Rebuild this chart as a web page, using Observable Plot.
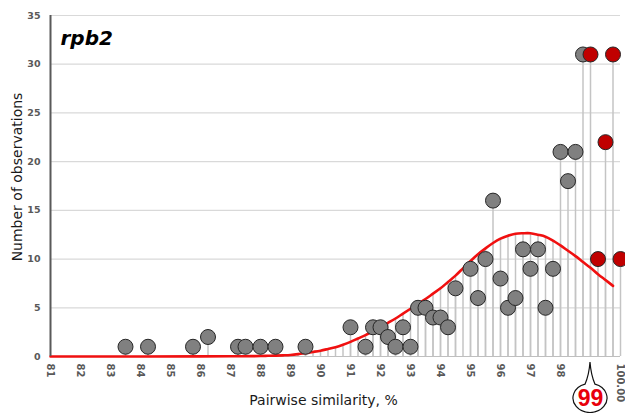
<!DOCTYPE html>
<html>
<head>
<meta charset="utf-8">
<script src="https://cdn.jsdelivr.net/npm/d3@7"></script>
<script src="https://cdn.jsdelivr.net/npm/@observablehq/plot@0.6"></script>
<style>
  html, body { margin: 0; padding: 0; background: white; }
  #chart { width: 625px; height: 413px; }
</style>
</head>
<body>
<div id="chart"></div>
<script>
// ---- data ----
const title = "rpb2";
const xLabel = "Pairwise similarity, %";
const yLabel = "Number of observations";

const xTicks = [81, 82, 83, 84, 85, 86, 87, 88, 89, 90, 91, 92, 93, 94, 95, 96, 97, 98, 100];
const xTickLabels = ["81", "82", "83", "84", "85", "86", "87", "88", "89", "90", "91", "92", "93", "94", "95", "96", "97", "98", "100.00"];
const yTicks = [0, 5, 10, 15, 20, 25, 30, 35];
const calloutValue = 99;
const calloutLabel = "99";

// grey points (similarity < 99 %)
const grayX = [83.5, 84.25, 85.75, 86.25, 87.25, 87.5, 88.0, 88.5, 89.5, 91.0, 91.5, 91.75, 92.0, 92.25, 92.5, 92.75, 93.0, 93.25, 93.5, 93.75, 94.0, 94.25, 94.5, 95.0, 95.25, 95.5, 95.75, 96.0, 96.25, 96.5, 96.75, 97.0, 97.25, 97.5, 97.75, 98.0, 98.25, 98.5, 98.75];
const grayN = [1, 1, 1, 2, 1, 1, 1, 1, 1, 3, 1, 3, 3, 2, 1, 3, 1, 5, 5, 4, 4, 3, 7, 9, 6, 10, 16, 8, 5, 6, 11, 9, 11, 5, 9, 21, 18, 21, 31];

// red points (similarity >= 99 %)
const redX = [99.0, 99.25, 99.5, 99.75, 100.0];
const redN = [31, 10, 22, 31, 10];

// fitted curve
const curveX = [81, 84, 86, 87, 87.5, 88, 88.25, 88.5, 88.75, 89, 89.25, 89.5, 89.75, 90, 90.25, 90.5, 90.75, 91, 91.25, 91.5, 91.75, 92, 92.25, 92.5, 92.75, 93, 93.25, 93.5, 93.75, 94, 94.25, 94.5, 94.75, 95, 95.25, 95.5, 95.75, 96, 96.25, 96.5, 96.75, 97, 97.25, 97.5, 97.75, 98, 98.25, 98.5, 98.75, 99, 99.25, 99.5, 99.75];
const curveY = [0, 0, 0.01, 0.02, 0.03, 0.05, 0.07, 0.09, 0.12, 0.16, 0.24, 0.35, 0.47, 0.6, 0.77, 0.95, 1.2, 1.5, 1.85, 2.2, 2.6, 3.0, 3.45, 3.9, 4.4, 4.9, 5.4, 5.9, 6.45, 7.0, 7.65, 8.3, 9.05, 9.8, 10.5, 11.1, 11.65, 12.1, 12.4, 12.6, 12.65, 12.65, 12.5, 12.3, 11.9, 11.4, 10.85, 10.3, 9.7, 9.1, 8.45, 7.85, 7.25];

// ---- tables ----
const gray = grayX.map((x, i) => ({x, n: grayN[i]}));
const red = redX.map((x, i) => ({x, n: redN[i]}));
const curve = curveX.map((x, i) => ({x, y: curveY[i]}));
const ticksX = xTicks.map((x, i) => ({x, label: xTickLabels[i]}));

const tickColor = "#595959";

const plot = Plot.plot({
  width: 625,
  height: 413,
  marginLeft: 50,
  marginRight: 5,
  marginTop: 15,
  marginBottom: 57,
  x: {domain: [81, 100], axis: null},
  y: {domain: [0, 35], axis: null},
  style: {fontFamily: "DejaVu Sans", background: "white", overflow: "visible"},
  marks: [
    Plot.ruleY(yTicks.filter(d => d > 0), {y: d => d, stroke: "#d9d9d9", strokeWidth: 1.2}),
    Plot.ruleY([0], {stroke: "#bfbfbf", strokeWidth: 1}),
    // drop lines of the curve and of the points
    Plot.ruleX(curve, {x: "x", y1: 0, y2: "y", stroke: "#c4c4c4", strokeWidth: 1.5}),
    Plot.ruleX(gray, {x: "x", y1: 0, y2: "n", stroke: "#c4c4c4", strokeWidth: 1.5}),
    Plot.ruleX(red, {x: "x", y1: 0, y2: "n", stroke: "#c4c4c4", strokeWidth: 1.5}),
    // fitted curve
    Plot.line(curve, {x: "x", y: "y", stroke: "#f01010", strokeWidth: 2.6, curve: "catmull-rom"}),
    // y axis line
    Plot.ruleX([81], {stroke: "#595959", strokeWidth: 2}),
    // points
    Plot.dot(gray, {x: "x", y: "n", r: 7.5, fill: "#808080", stroke: "#262626", strokeWidth: 1}),
    Plot.dot(red, {x: "x", y: "n", r: 7.5, fill: "#c00000", stroke: "#262626", strokeWidth: 1}),
    // y tick labels
    Plot.text(yTicks, {y: d => d, text: d => String(d), frameAnchor: "left", textAnchor: "end", dx: -10,
      fontSize: 9.5, fontWeight: "bold", fill: tickColor}),
    // x tick labels (rotated)
    Plot.text(ticksX, {x: "x", text: "label", frameAnchor: "bottom", rotate: 90, textAnchor: "start",
      lineAnchor: "middle", dy: 7, fontSize: 10, fontWeight: "bold", fill: tickColor}),
    // callout number
    Plot.text([calloutValue], {x: d => d, text: [calloutLabel], frameAnchor: "bottom", dy: 42,
      lineAnchor: "middle", fontSize: 23, fontWeight: "bold", fill: "#e8000b",
      fontFamily: "Liberation Sans"}),
    // title
    Plot.text([title], {frameAnchor: "top-left", dx: 10, dy: 23, lineAnchor: "middle", textAnchor: "start",
      fontSize: 20, fontWeight: "bold", fontStyle: "italic", fill: "black"}),
    // axis labels
    Plot.text([yLabel], {frameAnchor: "left", rotate: -90, textAnchor: "middle", dx: -33, dy: -9,
      lineAnchor: "middle", fontSize: 14, fill: "#1a1a1a"}),
    Plot.text([xLabel], {frameAnchor: "bottom", textAnchor: "middle", dx: -12, dy: 44, lineAnchor: "middle",
      fontSize: 14, fill: "#1a1a1a"})
  ]
});

// speech-bubble outline around the callout, positioned with the x scale
const sx = plot.scale("x");
const cx = sx.apply(calloutValue);
const cy = 398, rx = 17, ry = 14.5, half = 5;
const yTop = cy - ry * Math.sqrt(1 - (half / rx) ** 2);
const tipY = 362;
const path = `M${cx - half},${yTop} A${rx},${ry} 0 1 0 ${cx + half},${yTop} Q${cx + 1},${yTop - 9} ${cx},${tipY} Q${cx - 1},${yTop - 9} ${cx - half},${yTop} Z`;
d3.select(plot).append("path")
  .attr("d", path).attr("fill", "white").attr("stroke", "#111").attr("stroke-width", 1.2);
// keep the number above the bubble outline
d3.select(plot).selectAll("text")
  .filter(function() { return this.textContent === calloutLabel; })
  .each(function() { const g = this.parentNode; g.parentNode.appendChild(g); });

document.getElementById("chart").appendChild(plot);
</script>
</body>
</html>
